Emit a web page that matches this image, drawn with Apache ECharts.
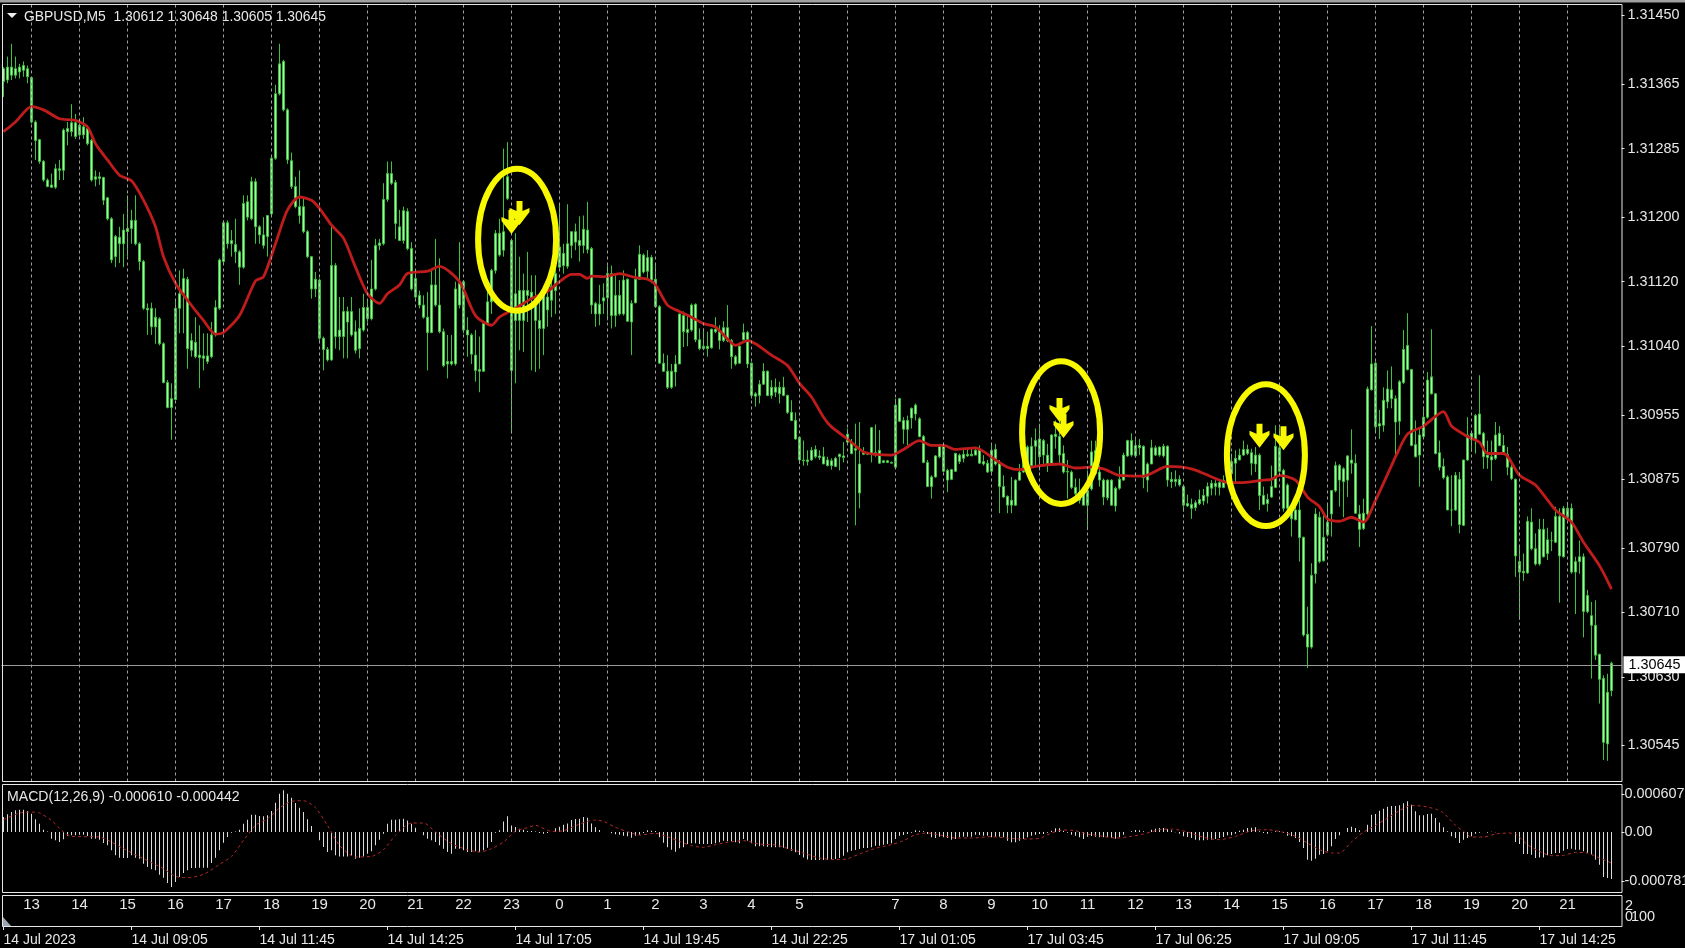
<!DOCTYPE html>
<html>
<head>
<meta charset="utf-8">
<style>html,body{margin:0;padding:0;background:#000}#c{width:1685px;height:948px}</style>
<script src="https://cdn.jsdelivr.net/npm/echarts@6/dist/echarts.min.js"></script>
</head>
<body>
<div id="c"></div>
<script>
// All candle values: price above 1.30000 in points (0.00001)
const candleTop = [
1384,1386,1386,1384,1386,1388,1384,1373,1318,1296,
1269,1246,1240,1260,1260,1308,1310,1317,1317,1314,
1312,1310,1295,1250,1250,1249,1224,1198,1176,1175,
1184,1186,1196,1196,1167,1145,1087,1087,1076,1074,
1043,995,975,1087,1105,1124,1123,1047,1045,1029,
1028,1028,1054,1088,1147,1193,1193,1171,1166,1157,
1217,1219,1244,1244,1188,1178,1202,1273,1353,1390,
1393,1333,1270,1238,1213,1213,1182,1151,1123,1122,
1050,1036,1140,1140,1060,1083,1083,1083,1058,1062,
1088,1088,1111,1165,1168,1222,1254,1254,1243,1188,
1208,1207,1161,1124,1103,1091,1076,1116,1116,1091,
1058,1021,1021,1111,1118,1120,1060,1054,1029,1011,
1068,1095,1134,1180,1180,1182,1250,1171,1105,1109,
1109,1109,1107,1099,1072,1105,1101,1114,1130,1163,
1155,1167,1182,1182,1171,1185,1184,1161,1093,1092,
1100,1130,1130,1103,1103,1122,1123,1093,1123,1154,
1153,1150,1150,1123,1089,1019,1009,1009,1018,1080,
1078,1061,1091,1092,1048,1040,1040,1061,1061,1058,
1063,1063,1047,1027,1040,1057,1057,1019,981,993,
1009,1009,989,989,989,989,979,958,948,927,
899,899,911,912,904,903,899,898,901,906,
904,931,920,913,894,908,907,939,908,911,
898,898,896,967,975,948,948,963,967,950,
928,896,878,904,916,916,886,887,907,905,
906,906,906,911,912,897,895,911,912,895,
866,854,849,874,884,903,915,916,923,925,
923,905,930,931,928,907,885,884,865,859,
859,861,909,911,884,874,874,874,864,875,
905,923,923,917,917,916,894,914,914,915,
916,916,875,875,875,866,845,844,846,850,
855,866,870,870,871,874,884,897,901,905,
912,912,908,905,905,855,850,866,916,914,
886,868,839,837,837,803,683,756,832,828,
803,822,861,892,892,888,904,899,895,832,
833,987,1018,1019,944,973,987,986,975,996,
1036,1041,1011,918,930,952,998,1002,981,908,
891,878,837,880,875,899,930,932,954,956,
932,905,903,930,932,917,906,890,875,773,
761,823,822,789,813,813,800,799,829,829,
839,839,839,773,779,779,731,706,694,658,
628,611,647];
const candleBottom = [
1368,1370,1376,1376,1380,1382,1374,1318,1295,1269,
1246,1238,1237,1237,1258,1258,1306,1306,1300,1302,
1302,1291,1246,1247,1248,1221,1198,1147,1151,1167,
1167,1182,1186,1167,1145,1087,1085,1064,1064,1043,
995,964,964,974,1087,1105,1037,1035,1027,1026,
1025,1021,1027,1054,1087,1145,1167,1167,1157,1138,
1138,1200,1198,1188,1178,1165,1176,1204,1273,1353,
1333,1271,1238,1213,1202,1182,1151,1111,1111,1050,
1036,1023,1023,1052,1052,1052,1070,1054,1035,1037,
1060,1074,1074,1111,1165,1167,1222,1242,1192,1171,
1171,1161,1111,1101,1091,1076,1057,1057,1091,1058,
1016,1018,1018,1018,1091,1060,1054,1030,1010,1009,
1009,1068,1095,1134,1153,1159,1223,1010,1072,1072,
1072,1103,1099,1072,1062,1062,1085,1097,1109,1138,
1140,1139,1165,1169,1165,1165,1160,1091,1080,1080,
1096,1100,1078,1078,1080,1080,1071,1070,1094,1123,
1132,1133,1122,1089,1019,1009,989,989,1008,1018,
1058,1057,1060,1048,1037,1037,1037,1038,1058,1047,
1047,1047,1027,1018,1019,1048,1018,979,978,979,
993,979,979,983,981,979,958,948,925,899,
898,897,899,903,902,894,892,892,891,903,
902,921,907,911,858,906,906,907,905,895,
896,896,895,890,947,937,937,951,956,928,
896,866,866,878,903,885,874,875,885,897,
901,904,904,905,895,894,884,885,894,866,
853,843,843,843,874,884,888,892,916,903,
905,894,894,928,905,884,884,865,857,849,
843,843,863,882,874,853,852,843,842,864,
874,904,905,904,914,877,874,894,905,905,
904,874,872,872,868,843,842,839,840,845,
848,854,864,866,865,865,872,882,895,899,
905,907,895,894,855,844,845,853,865,885,
839,839,826,825,803,682,667,667,758,773,
774,806,832,861,874,872,874,895,833,813,
814,832,986,940,941,942,971,975,946,947,
995,1011,917,903,905,928,952,981,907,890,
877,837,837,837,819,818,899,924,923,931,
903,902,899,901,917,906,890,876,780,760,
759,759,789,770,770,779,783,799,797,780,
779,828,760,760,773,711,711,694,657,627,
549,547,613];
const highs = [
1386,1399,1415,1399,1390,1393,1388,1374,1320,1297,
1271,1248,1254,1266,1271,1310,1318,1340,1328,1320,
1324,1314,1297,1258,1256,1250,1225,1200,1178,1188,
1204,1227,1209,1227,1169,1147,1093,1094,1087,1076,
1045,998,994,1097,1134,1136,1126,1056,1076,1066,
1056,1056,1070,1097,1149,1196,1196,1184,1198,1159,
1227,1227,1250,1248,1190,1200,1202,1275,1364,1415,
1395,1335,1280,1250,1258,1223,1184,1152,1132,1124,
1052,1039,1188,1143,1101,1101,1089,1101,1072,1087,
1105,1097,1147,1173,1173,1242,1269,1269,1246,1209,
1213,1211,1169,1132,1109,1103,1107,1134,1173,1149,
1062,1054,1054,1120,1169,1122,1076,1056,1060,1052,
1070,1109,1136,1184,1198,1285,1293,1172,1180,1151,
1130,1157,1128,1128,1105,1109,1118,1130,1142,1217,
1167,1216,1182,1192,1201,1202,1219,1163,1095,1116,
1118,1140,1140,1130,1122,1134,1124,1097,1136,1165,
1155,1159,1153,1142,1091,1031,1029,1018,1029,1080,
1083,1078,1093,1093,1062,1062,1058,1062,1076,1066,
1071,1091,1049,1029,1041,1068,1059,1020,983,998,
1019,1010,998,1000,996,1002,980,973,958,928,
923,911,915,917,911,915,903,901,903,907,
921,938,925,944,946,915,909,940,943,936,
899,899,897,975,976,952,954,964,969,952,
930,899,880,905,919,918,888,888,908,907,
914,914,915,914,917,905,899,920,919,899,
880,855,878,875,894,911,917,927,938,944,
925,919,931,948,950,917,899,886,876,876,
866,886,923,923,892,876,875,875,866,891,
908,924,932,925,925,917,896,924,917,916,
919,917,884,886,880,868,856,851,849,862,
863,871,874,874,873,880,899,907,911,913,
923,918,913,915,907,866,857,892,942,939,
888,870,845,845,849,804,717,771,839,835,
832,845,861,897,894,890,905,937,906,843,
851,990,1065,1021,961,989,1010,1015,979,998,
1060,1081,1012,948,940,965,1008,1061,982,923,
901,880,880,884,884,899,952,934,956,1004,
934,923,923,946,941,930,915,894,876,792,
783,829,839,808,826,826,815,810,841,839,
842,847,845,779,799,783,738,723,725,659,
632,634,649];
const lows = [
1349,1366,1370,1372,1372,1374,1366,1316,1271,1266,
1244,1237,1236,1235,1246,1246,1289,1300,1297,1300,
1297,1289,1244,1238,1240,1215,1196,1143,1138,1143,
1138,1151,1167,1165,1134,1085,1054,1054,1043,1041,
994,963,924,973,1056,1056,1012,1027,1025,988,
1010,1018,1025,1052,1085,1143,1161,1151,1143,1116,
1136,1196,1196,1167,1167,1161,1151,1202,1271,1351,
1331,1266,1235,1211,1192,1180,1149,1099,1101,1047,
1010,1021,1022,1037,1035,1025,1025,1052,1031,1025,
1058,1070,1072,1109,1159,1165,1219,1240,1173,1171,
1167,1159,1109,1099,1087,1074,1010,1056,1089,1056,
1014,1000,1016,1016,1087,1056,1027,1018,996,983,
1008,1066,1080,1130,1151,1151,1221,932,994,1035,
1033,1070,1010,1008,1012,1029,1064,1076,1080,1136,
1130,1136,1149,1159,1145,1155,1155,1080,1064,1066,
1080,1072,1062,1064,1078,1078,1070,1029,1093,1122,
1130,1122,1118,1088,1018,1008,987,987,990,1018,
1039,1040,1058,1045,1035,1035,1027,1037,1056,1036,
1045,1045,1012,1016,1018,1047,1013,975,965,969,
992,978,975,977,969,978,956,947,924,894,
892,892,898,901,899,894,891,887,890,886,
896,919,906,818,839,905,905,896,903,894,
895,895,895,889,946,919,917,938,948,927,
895,866,851,877,901,884,859,874,884,894,
896,903,905,905,894,892,883,880,892,833,
852,833,833,842,873,883,886,890,892,886,
892,884,894,913,894,882,851,863,849,845,
843,812,861,880,866,843,849,842,835,862,
873,903,903,902,905,864,859,894,904,903,
902,866,864,866,866,835,841,826,836,843,
843,845,855,855,855,864,870,866,870,899,
904,905,880,884,837,843,835,852,864,884,
835,837,804,824,773,680,641,665,746,771,
773,804,804,859,841,828,853,882,832,791,
812,830,985,934,925,934,963,963,905,930,
993,1010,916,902,866,927,950,980,906,886,
875,837,817,836,808,817,898,909,907,930,
888,888,873,899,916,905,880,874,754,701,
749,758,787,768,768,778,775,786,796,722,
778,826,758,708,758,679,709,628,651,597,
527,526,606];
// MACD histogram in millionths
const macdHist = [
240,282,320,346,357,357,335,293,202,133,
37,10,-106,-133,-160,-117,-58,-53,-53,-43,
-43,-64,-106,-106,-122,-176,-213,-293,-373,-410,
-415,-415,-373,-410,-426,-506,-559,-596,-612,-682,
-730,-815,-879,-799,-719,-655,-612,-575,-575,-570,
-570,-570,-495,-410,-293,-170,-80,-10,10,37,
133,197,277,277,255,250,266,335,469,612,
666,612,548,463,389,320,202,96,0,-133,
-240,-320,-293,-373,-389,-389,-389,-383,-426,-410,
-389,-346,-309,-213,-122,-27,133,197,197,202,
213,186,133,69,0,-53,-106,-133,-160,-213,
-266,-320,-346,-266,-266,-293,-320,-320,-309,-320,
-293,-250,-160,-10,27,170,250,106,80,53,
37,16,16,10,-16,-27,-16,0,59,85,
117,138,192,208,213,240,229,138,75,32,
0,0,-21,-37,-43,-59,-69,-91,-59,-43,
-16,27,21,16,-85,-170,-245,-282,-314,-261,
-245,-192,-181,-181,-192,-192,-192,-192,-181,-165,
-138,-149,-149,-165,-181,-112,-138,-181,-229,-229,
-229,-234,-245,-245,-245,-250,-272,-298,-325,-367,
-405,-437,-447,-447,-447,-447,-447,-447,-431,-415,
-378,-325,-298,-288,-272,-256,-256,-245,-218,-218,
-202,-192,-181,-112,-59,-48,-32,-11,27,21,
11,-32,-85,-96,-75,-85,-96,-122,-112,-85,
-75,-75,-75,-43,-48,-59,-59,-85,-75,-75,
-85,-138,-165,-165,-138,-112,-85,-59,-43,-32,
-32,-11,21,59,59,21,-11,-43,-59,-85,
-112,-75,-64,-75,-85,-85,-80,-96,-107,-85,
-43,0,11,32,27,11,0,37,53,64,
64,48,27,-5,-27,-69,-80,-96,-122,-133,
-133,-122,-122,-112,-96,-80,-53,-53,-27,21,
37,64,69,75,11,-16,-27,-5,11,11,
-16,-59,-69,-96,-160,-256,-442,-458,-426,-362,
-351,-309,-229,-112,-53,0,64,85,64,27,
0,117,277,288,341,373,405,415,415,426,
458,490,437,330,266,266,288,293,224,154,
75,11,-69,-96,-176,-122,-96,-69,-27,-11,
0,-11,5,-5,0,0,0,0,-160,-192,
-351,-351,-362,-415,-405,-405,-373,-351,-335,-335,
-298,-272,-266,-282,-282,-309,-335,-362,-442,-522,
-719,-735,-751];
const maBars = [0,3,7,10,14,18,21,23,26,29,
32,35,38,40,43,46,50,53,55,59,
63,65,68,71,74,77,79,82,85,88,
91,94,96,99,101,106,109,114,118,122,
124,128,132,136,139,142,144,146,147,150,
154,158,161,163,166,169,172,175,178,181,
183,186,188,192,196,199,202,205,207,211,
215,218,222,225,229,232,235,238,243,248,
251,254,258,264,268,272,275,279,285,291,
297,303,306,310,315,317,319,323,326,329,
331,334,337,340,343,347,348,351,355,360,
362,366,369,371,375,379,383,388,392,395,
399,402];
const maValues = [1306,1318,1337,1333,1322,1320,1312,1291,1271,1252,
1245,1221,1188,1151,1118,1097,1072,1055,1057,1078,
1121,1126,1167,1209,1225,1221,1211,1190,1174,1138,
1105,1093,1105,1116,1130,1133,1139,1120,1078,1066,
1076,1087,1099,1108,1120,1129,1129,1124,1127,1126,
1130,1125,1123,1116,1091,1083,1076,1068,1064,1049,
1041,1047,1043,1029,1016,994,977,952,940,925,
909,906,905,912,923,917,917,912,914,899,
890,887,891,894,889,890,888,880,879,891,
888,876,871,871,874,875,880,874,853,841,
826,823,828,822,849,892,903,931,941,959,
941,928,921,907,907,880,868,837,822,797,
768,739];
const signalBars = [0,4,7,9,12,15,17,24,27,30,
35,40,43,46,50,54,57,60,63,66,
69,72,75,78,81,84,88,92,95,98,
102,105,108,112,116,119,122,125,128,131,
133,137,140,143,146,148,150,153,156,159,
163,166,169,172,175,178,181,185,189,193,
196,200,204,208,211,214,218,222,225,228,
231,235,238,242,247,251,255,259,262,265,
268,271,274,278,282,285,289,292,296,300,
304,308,312,316,320,323,326,329,332,334,
337,340,343,346,349,352,355,358,360,363,
365,367,370,373,376,378,381,384,387,390,
393,396,399,402];
const signalValues = [197,303,319,303,186,0,-69,-80,-160,-266,
-426,-586,-708,-730,-676,-516,-389,-133,106,213,
383,490,500,389,106,-213,-399,-389,-282,-53,
144,144,0,-186,-282,-320,-266,-160,16,69,
106,11,21,101,170,192,170,75,5,-48,
-21,-75,-149,-218,-245,-202,-165,-138,-192,-208,
-261,-335,-415,-442,-426,-351,-261,-202,-138,-43,
-16,-59,-96,-96,-75,-96,-112,-101,-16,32,
21,-32,-59,-96,-69,-32,37,48,0,-85,
-122,-69,21,37,-5,-69,-176,-282,-335,-335,
-160,0,106,224,341,426,410,367,304,106,
11,-80,-80,-32,-16,-32,-202,-309,-378,-373,
-325,-335,-415,-495];
const priceTicks = [1.3145,1.31365,1.31285,1.312,1.3112,1.3104,1.30955,1.30875,1.3079,1.3071,1.3063,1.30545];
const macdTicks = [0.000607,0,-0.000781];
const hourNames = ['13','14','15','16','17','18','19','20','21','22','23','0','1','2','3','4','5','','7','8','9','10','11','12','13','14','15','16','17','18','19','20','21'];
const dateNames = ['14 Jul 2023','14 Jul 09:05','14 Jul 11:45','14 Jul 14:25','14 Jul 17:05','14 Jul 19:45','14 Jul 22:25','17 Jul 01:05','17 Jul 03:45','17 Jul 06:25','17 Jul 09:05','17 Jul 11:45','17 Jul 14:25'];
const lastPrice = 1.30645;
// annotation ellipses: centre bar, centre points, half width in bars, half height in points
const ellipseBar = [128.4,264.4,315.6];
const ellipsePts = [1172,933,905];
const ellipseHalfBars = [9.75,9.75,9.75];
const ellipseHalfPts = [88,88.5,88];
const arrowBars = [129,127,264,265,314,320];
const arrowPts = [1205,1194,961,941,929,926];

const COUNT = 405;   // 403 bars + 2 empty slots at the right edge
const FIRST_HOUR_BAR = 7, BARS_PER_HOUR = 12, BARS_PER_DATE = 32;
const toPrice = p => +(1.3 + p / 1e5).toFixed(5);
const cats = Array.from({length: COUNT}, (_, i) => String(i));
const hourAxis = cats.map((_, i) => {
  const k = (i - FIRST_HOUR_BAR) / BARS_PER_HOUR;
  return Number.isInteger(k) && hourNames[k] !== undefined ? hourNames[k] : '';
});
const dateAxis = cats.map((_, i) => (i % BARS_PER_DATE === 0 && dateNames[i / BARS_PER_DATE]) || '');
const hourBars = hourNames.map((_, k) => FIRST_HOUR_BAR + k * BARS_PER_HOUR);
const sparse = (bars, vals, f) => { const a = new Array(COUNT).fill(null); bars.forEach((b, i) => a[b] = f(vals[i])); return a; };
const candles = candleTop.map((t, i) => [toPrice(t), toPrice(candleBottom[i]), toPrice(lows[i]), toPrice(highs[i])]);

const FONT = 'Liberation Sans', TXT = '#e8e8e8', LEFT = 1.5, W = 1620;
const chart = echarts.init(document.getElementById('c'), null, {renderer: 'canvas', width: 1685, height: 948});
const lineBox = (x, y, w, h) => ({type: 'rect', shape: {x, y, width: w, height: h}, style: {fill: 'none', stroke: '#e6e6e6', lineWidth: 1}, z: 50, silent: true});

chart.setOption({
  animation: false,
  backgroundColor: '#000',
  textStyle: {fontFamily: FONT},
  title: [
    {text: 'GBPUSD,M5  1.30612 1.30648 1.30605 1.30645', left: 24, top: 10, padding: 0, textStyle: {color: TXT, fontSize: 13.9, fontWeight: 'normal', fontFamily: FONT}},
    {text: 'MACD(12,26,9) -0.000610 -0.000442', left: 7, top: 790, padding: 0, textStyle: {color: TXT, fontSize: 14.1, fontWeight: 'normal', fontFamily: FONT}}
  ],
  grid: [
    {left: LEFT, width: W, top: 4.5, height: 777, outerBoundsMode: 'none'},
    {left: LEFT, width: W, top: 784, height: 108, outerBoundsMode: 'none'},
    {left: LEFT, width: W, top: 895, height: 31, outerBoundsMode: 'none'}
  ],
  xAxis: [
    {type: 'category', gridIndex: 0, data: cats, show: false, boundaryGap: true},
    {type: 'category', gridIndex: 1, data: cats, show: false, boundaryGap: true},
    {type: 'category', gridIndex: 2, data: dateAxis, position: 'bottom', boundaryGap: true,
      axisLine: {show: false},
      axisTick: {show: true, length: 4, alignWithLabel: true, interval: i => dateAxis[i] !== '', lineStyle: {color: '#e6e6e6'}},
      axisLabel: {interval: i => dateAxis[i] !== '', color: TXT, fontSize: 14, align: 'left', margin: 7, hideOverlap: false}},
    {type: 'category', gridIndex: 2, data: hourAxis, position: 'top', boundaryGap: true,
      axisLine: {show: false}, axisTick: {show: false},
      axisLabel: {inside: true, interval: i => hourAxis[i] !== '', color: TXT, fontSize: 15, margin: 2, hideOverlap: false}}
  ],
  yAxis: [
    {type: 'value', gridIndex: 0, position: 'right', min: 1.305004, max: 1.314636, splitLine: {show: false},
      axisLine: {show: false},
      axisTick: {show: true, length: 3, customValues: priceTicks, lineStyle: {color: '#e6e6e6'}},
      axisLabel: {customValues: priceTicks, color: TXT, fontSize: 14.4, margin: 6, formatter: v => v.toFixed(5), showMinLabel: true, showMaxLabel: true}},
    {type: 'value', gridIndex: 1, position: 'right', min: -0.000958, max: 0.000767, splitLine: {show: false},
      axisLine: {show: false},
      axisTick: {show: true, length: 3, customValues: macdTicks, lineStyle: {color: '#e6e6e6'}},
      axisLabel: {customValues: macdTicks, color: TXT, fontSize: 14.4, margin: 3, formatter: v => v === 0 ? '0.00' : v.toFixed(6)}},
    {type: 'value', gridIndex: 2, show: false}
  ],
  series: [
    {type: 'line', name: 'guides', xAxisIndex: 0, yAxisIndex: 0, z: 1, data: [], silent: true,
      markLine: {silent: true, precision: 6, symbol: ['none', 'none'], animation: false, label: {show: false},
        lineStyle: {color: '#a0a0a0', type: [3, 3], width: 1},
        data: hourBars.map(n => ({xAxis: n})).concat([{
          yAxis: lastPrice,
          lineStyle: {color: '#9a9a9a', type: 'solid', width: 1},
          label: {show: true, position: 'end', distance: 2, formatter: lastPrice.toFixed(5), color: '#000', backgroundColor: '#fff', fontSize: 14.4, fontFamily: FONT, padding: [2, 8, 1, 5]}
        }])}},
    {type: 'candlestick', name: 'GBPUSD', xAxisIndex: 0, yAxisIndex: 0, z: 2, barWidth: 3, data: candles, large: false,
      itemStyle: {color: '#a6f5a6', color0: '#a6f5a6', borderColor: '#3cc23c', borderColor0: '#3cc23c', borderWidth: 1}},
    {type: 'line', name: 'MA', xAxisIndex: 0, yAxisIndex: 0, z: 3, data: sparse(maBars, maValues, toPrice), connectNulls: true, smooth: 0.25,
      showSymbol: false, symbol: 'none', lineStyle: {color: '#c01c1c', width: 2.8}},
    {type: 'bar', name: 'MACD', xAxisIndex: 1, yAxisIndex: 1, z: 2, barWidth: 1, data: macdHist.map(v => v * 1e-6), itemStyle: {color: '#dcdcdc'}},
    {type: 'line', name: 'Signal', xAxisIndex: 1, yAxisIndex: 1, z: 3, data: sparse(signalBars, signalValues, v => v * 1e-6), connectNulls: true, smooth: 0.25,
      showSymbol: false, symbol: 'none', lineStyle: {color: '#b52a2a', width: 1, type: [3, 3]}},
    {type: 'custom', name: 'circles', xAxisIndex: 0, yAxisIndex: 0, z: 5, clip: false, silent: true,
      data: ellipseBar.map((b, i) => [b, toPrice(ellipsePts[i]), ellipseHalfBars[i], ellipseHalfPts[i]]),
      encode: {x: 0, y: 1},
      renderItem: (params, api) => {
        const b = api.value(0), pr = api.value(1), hb = api.value(2), hp = api.value(3);
        const whole = Math.floor(b);
        const c = api.coord([whole, pr]), next = api.coord([whole + 1, pr + hp / 1e5]);
        const band = next[0] - c[0];
        return {type: 'ellipse', shape: {cx: c[0] + (b - whole) * band, cy: c[1], rx: hb * band, ry: Math.abs(next[1] - c[1])},
          style: {fill: 'none', stroke: '#f8f800', lineWidth: 6}};
      }},
    {type: 'scatter', name: 'arrows', xAxisIndex: 0, yAxisIndex: 0, z: 6, silent: true,
      symbol: 'path://M7,0 H13 V10 L20,7 V11 L10,24 L0,11 V7 L7,10 Z', symbolSize: [20, 24],
      itemStyle: {color: '#f8f800', opacity: 1},
      data: arrowBars.map((b, i) => [b, toPrice(arrowPts[i])])}
  ],
  graphic: [
    {type: 'rect', shape: {x: 0, y: 0, width: 1685, height: 2.5}, style: {fill: '#a0a0a0'}, silent: true},
    lineBox(2.5, 4.5, 1619.5, 777),
    lineBox(2.5, 784.5, 1619.5, 108),
    lineBox(2.5, 895.5, 1619.5, 31),
    {type: 'polygon', shape: {points: [[7, 13], [17, 13], [12, 18]]}, style: {fill: '#eee'}, silent: true},
    {type: 'polygon', shape: {points: [[3, 917], [3, 926], [11, 926]]}, style: {fill: '#9aa7b0'}, silent: true},
    {type: 'text', x: 1625, y: 899, style: {text: '2', fill: TXT, font: '14.4px "Liberation Sans"'}, silent: true},
    {type: 'text', x: 1625, y: 910, style: {text: '0', fill: TXT, font: '14.4px "Liberation Sans"'}, silent: true},
    {type: 'text', x: 1631, y: 910, style: {text: '100', fill: TXT, font: '14.4px "Liberation Sans"'}, silent: true}
  ]
});
</script>
</body>
</html>
